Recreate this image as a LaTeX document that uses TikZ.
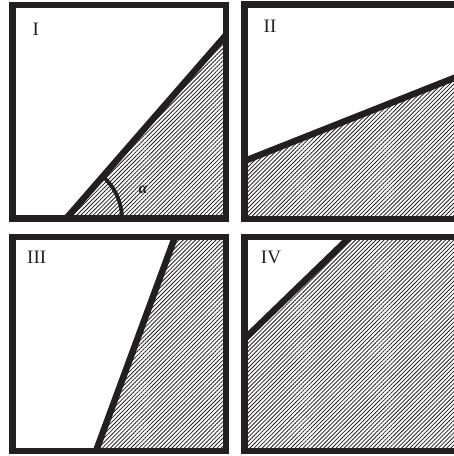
\documentclass[tikz,border=0pt]{standalone}
\usepackage{fontspec}
\setmainfont{Liberation Serif}
\usetikzlibrary{patterns.meta}
\definecolor{ink}{HTML}{231F20}
\tikzset{
  frame/.style={draw=ink, line width=6.5pt, line join=miter},
  cut/.style={draw=ink, line width=6.5pt},
  hatch/.style={pattern={Lines[angle=45,distance=2.9pt,line width=0.8pt]}, pattern color=ink},
  lab/.style={text=ink, font=\fontsize{19}{19}\selectfont, inner sep=0pt},
  anglab/.style={text=ink, font=\fontsize{16}{16}\selectfont\bfseries\itshape, inner sep=0pt}
}
\begin{document}
\begin{tikzpicture}[x=1pt,y=1pt]
\useasboundingbox (0,0) rectangle (454,456);
\clip (0,0) rectangle (454,456);
% Panel I
\coordinate (a1) at (66,237.3);
\coordinate (b1) at (226,421);
\fill[hatch] (a1) -- (b1) -- (226,237.3) -- cycle;
\draw[cut] (a1) -- (b1);
\draw[ink, line width=3.8pt] ([shift={(0:56)}]a1) arc[start angle=0, end angle=49, radius=56];
\draw[frame] (12.5,237.3) rectangle (226,451);
\node[lab] (l1) at (35.8,427) {I};
\node[anglab] (alpha) at (143,266) {α};
% Panel II
\coordinate (a2) at (244.5,295);
\coordinate (b2) at (480,388.3);
\fill[hatch] (a2) -- (b2) -- (480,237) -- (244.5,237) -- cycle;
\draw[cut] (a2) -- (b2);
\draw[frame] (244.5,237) rectangle (480,451.5);
\node[lab] (l2) at (270,430) {II};
% Panel III
\coordinate (a3) at (96,5);
\coordinate (b3) at (175,219);
\fill[hatch] (a3) -- (b3) -- (226,219) -- (226,5) -- cycle;
\draw[cut] (a3) -- (b3);
\draw[frame] (12.5,5) rectangle (226,219);
\node[lab] (l3) at (36.7,199) {III};
% Panel IV
\coordinate (a4) at (244.5,117);
\coordinate (b4) at (350,219);
\fill[hatch] (a4) -- (b4) -- (480,219) -- (480,5) -- (244.5,5) -- cycle;
\draw[cut] (a4) -- (b4);
\draw[frame] (244.5,5) rectangle (480,219);
\node[lab] (l4) at (271,199) {IV};
\end{tikzpicture}
\end{document}
